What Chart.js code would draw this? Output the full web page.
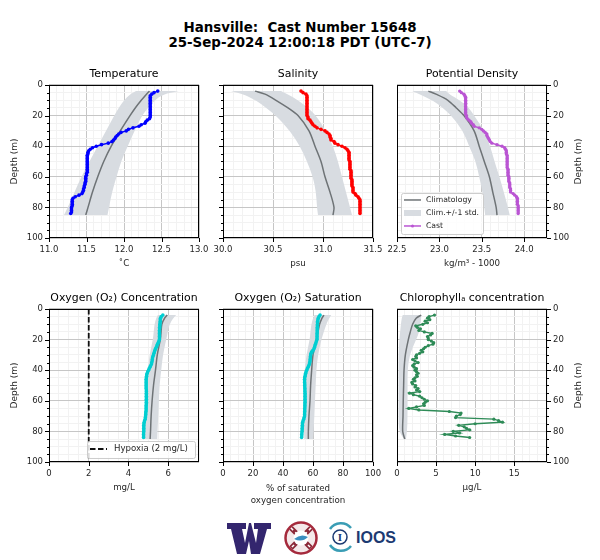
<!DOCTYPE html>
<html>
<head>
<meta charset="utf-8">
<script src="https://cdn.jsdelivr.net/npm/chart.js@4/dist/chart.umd.min.js"></script>
<style>
  html, body { margin: 0; background: #fff; }
  body { position: relative; width: 600px; height: 560px; overflow: hidden; font-family: "DejaVu Sans", sans-serif; }
  canvas { position: absolute; }
  #title { position: absolute; top: 20px; left: 0; width: 600px; text-align: center; font-size: 13.4px; font-weight: bold; line-height: 15px; color: #000; white-space: pre; }
  #logos { position: absolute; left: 0; top: 0; }
</style>
</head>
<body>
<div id="title">Hansville:  Cast Number 15648
25-Sep-2024 12:00:18 PDT (UTC-7)</div>

<svg id="logos" width="600" height="560">
  <path d="M227 523 H246 V529 H242 L245 543 L249 523 H251 L256 543 L258 529 H254 V523 H271 V529 H267 L260 554 H251 L249 541 L246 554 H237 L231 529 H227 Z" fill="#33266e"/>
  <circle cx="301" cy="538" r="15.5" fill="#f4e9ea" stroke="#a52a3c" stroke-width="2.5"/>
  <path d="M291 528 L311 548 M311 528 L291 548" stroke="#8c2a3a" stroke-width="5"/>
  <path d="M291 528 L311 548 M311 528 L291 548" stroke="#fff" stroke-width="1.5" stroke-dasharray="3 3"/>
  <circle cx="301" cy="538" r="7.5" fill="#fff"/>
  <path d="M294 539 q7 -6 14 -2 q-6 6 -14 2z" fill="#3a8fc0"/>
  <path d="M330 529 a13 13 0 0 1 21 -1 M330 545 a13 13 0 0 0 21 1" fill="none" stroke="#3a9db5" stroke-width="2.5"/>
  <circle cx="340" cy="537" r="7" fill="#fff" stroke="#1c3a72" stroke-width="1.5"/>
  <text x="340" y="541" text-anchor="middle" font-family="Liberation Serif" font-weight="bold" font-size="11" fill="#1c3a72">I</text>
  <text x="356" y="543" font-family="Liberation Sans" font-weight="bold" font-size="17" fill="#1c3a72" textLength="40" lengthAdjust="spacingAndGlyphs">IOOS</text>
</svg>

<script>
// Cast depths (m)
const castDepth = [4,5,6,7,8,9,10,11,12,13,14,15,16,17,18,19,20,21,22,23,24,25,26,27,28,29,30,31,32,33,34,35,36,37,38,39,40,41,42,43,44,45,46,47,48,49,50,51,52,53,54,55,56,57,58,59,60,61,62,63,64,65,66,67,68,69,70,71,72,73,74,75,76,77,78,79,80,81,82,83,84];

const tempCast = [12.45,12.40,12.37,12.35,12.35,12.35,12.35,12.35,12.35,12.35,12.35,12.35,12.35,12.35,12.35,12.35,12.35,12.35,12.34,12.31,12.29,12.28,12.23,12.20,12.12,12.06,12.03,11.96,11.93,11.91,11.89,11.88,11.86,11.84,11.79,11.70,11.63,11.58,11.55,11.53,11.52,11.52,11.51,11.51,11.51,11.51,11.51,11.51,11.51,11.51,11.51,11.51,11.51,11.51,11.50,11.50,11.49,11.49,11.49,11.49,11.48,11.48,11.47,11.47,11.46,11.46,11.45,11.44,11.40,11.35,11.32,11.31,11.31,11.31,11.31,11.31,11.30,11.30,11.30,11.30,11.29];
const salCast = [30.78,30.80,30.83,30.84,30.84,30.84,30.84,30.84,30.84,30.84,30.84,30.84,30.84,30.84,30.84,30.84,30.84,30.85,30.85,30.87,30.88,30.89,30.90,30.92,30.94,30.98,31.02,31.04,31.06,31.07,31.07,31.08,31.08,31.11,31.12,31.15,31.19,31.22,31.24,31.25,31.26,31.26,31.26,31.26,31.26,31.26,31.27,31.27,31.27,31.27,31.27,31.27,31.28,31.28,31.28,31.28,31.28,31.28,31.29,31.29,31.29,31.29,31.29,31.30,31.30,31.30,31.30,31.32,31.33,31.35,31.36,31.37,31.37,31.37,31.37,31.37,31.37,31.37,31.37,31.37,31.37];
const densCast = [23.24,23.26,23.29,23.30,23.31,23.31,23.31,23.31,23.31,23.31,23.31,23.31,23.31,23.31,23.31,23.31,23.32,23.32,23.33,23.35,23.37,23.38,23.40,23.41,23.47,23.50,23.52,23.54,23.56,23.56,23.57,23.58,23.59,23.60,23.62,23.68,23.74,23.77,23.78,23.79,23.79,23.79,23.80,23.80,23.80,23.80,23.80,23.80,23.80,23.80,23.80,23.81,23.81,23.81,23.81,23.81,23.82,23.82,23.82,23.82,23.83,23.83,23.83,23.83,23.84,23.84,23.84,23.87,23.89,23.91,23.92,23.92,23.92,23.92,23.92,23.93,23.93,23.93,23.93,23.93,23.93];
const oxyCast = [5.73,5.65,5.61,5.60,5.60,5.59,5.58,5.58,5.57,5.57,5.56,5.56,5.56,5.56,5.56,5.56,5.56,5.53,5.50,5.46,5.43,5.40,5.36,5.33,5.31,5.28,5.26,5.23,5.21,5.20,5.19,5.17,5.16,5.12,5.08,5.04,5.01,4.97,4.94,4.92,4.91,4.90,4.89,4.89,4.89,4.89,4.89,4.89,4.89,4.90,4.90,4.90,4.90,4.90,4.90,4.90,4.90,4.90,4.90,4.89,4.89,4.89,4.89,4.88,4.87,4.87,4.86,4.85,4.84,4.81,4.79,4.78,4.77,4.77,4.77,4.77,4.77,4.76,4.76,4.76,4.76];
const satCast = [64.7,64.0,63.5,63.3,63.1,63.0,63.0,62.9,62.9,62.8,62.8,62.8,62.7,62.7,62.7,62.7,62.7,62.3,62.0,61.6,61.3,61.0,60.7,59.9,59.1,58.7,58.4,58.3,58.2,58.1,58.0,57.8,57.6,57.2,56.7,56.2,55.8,55.4,55.1,54.9,54.7,54.5,54.4,54.4,54.4,54.5,54.5,54.5,54.6,54.6,54.6,54.7,54.7,54.7,54.7,54.7,54.7,54.7,54.6,54.6,54.6,54.5,54.5,54.5,54.4,54.4,54.4,54.1,53.8,53.4,53.1,53.0,52.9,52.9,52.8,52.8,52.7,52.6,52.5,52.5,52.4];
const chlCast = [4.8,4.1,3.9,4.2,3.6,3.9,3.3,2.4,2.6,3.0,2.8,3.5,4.5,4.3,3.9,4.0,4.0,4.4,4.7,4.6,4.0,3.6,3.4,3.1,3.3,2.9,2.5,2.4,2.5,2.0,2.3,2.7,2.2,2.0,2.2,2.5,2.3,2.5,2.7,2.5,2.6,2.3,2.1,2.3,1.9,2.0,2.4,2.3,2.7,2.5,2.9,1.6,2.1,2.9,3.2,3.5,3.9,3.6,3.4,3.5,2.5,1.5,2.8,6.7,8.2,8.1,7.6,7.5,12.4,13.0,13.5,10.0,7.9,8.6,8.9,9.3,7.2,8.0,6.1,7.5,9.3];

// Climatology depths (m), mean and +/-1 std. edges
const climDepth = [4,6,10,15,20,30,40,50,60,70,80,85];

const tempClim = [12.34,12.30,12.23,12.15,12.08,11.95,11.83,11.73,11.65,11.58,11.52,11.49];
const tempLow = [12.16,12.08,12.00,11.93,11.87,11.76,11.65,11.54,11.43,11.34,11.25,11.20];
const tempHigh = [12.73,12.52,12.41,12.32,12.24,12.14,12.05,11.96,11.90,11.84,11.80,11.78];

const salClim = [30.32,30.42,30.53,30.65,30.75,30.86,30.92,30.98,31.02,31.07,31.11,31.10];
const salLow = [30.08,30.20,30.33,30.43,30.53,30.67,30.77,30.84,30.90,30.93,30.94,30.95];
const salHigh = [30.58,30.65,30.75,30.85,30.93,31.03,31.10,31.15,31.19,31.23,31.27,31.29];

const densClim = [22.87,22.96,23.10,23.20,23.29,23.41,23.47,23.53,23.59,23.63,23.67,23.68];
const densLow = [22.68,22.76,22.92,23.04,23.14,23.28,23.35,23.43,23.47,23.51,23.53,23.54];
const densHigh = [23.08,23.12,23.24,23.35,23.41,23.53,23.60,23.65,23.71,23.76,23.81,23.83];

const oxyClim = [5.95,5.82,5.68,5.64,5.60,5.45,5.36,5.26,5.19,5.14,5.11,5.09];
const oxyLow = [5.48,5.39,5.31,5.27,5.23,5.06,4.97,4.89,4.86,4.81,4.81,4.81];
const oxyHigh = [6.40,6.24,6.07,5.98,5.90,5.73,5.65,5.56,5.53,5.50,5.46,5.45];

const satClim = [67.3,66.0,64.4,63.3,62.2,60.0,59.1,58.4,58.0,57.3,56.9,56.9];
const satLow = [61.0,60.0,58.9,58.3,57.8,55.6,54.4,54.0,53.8,53.8,54.0,54.2];
const satHigh = [72.2,70.7,68.9,67.2,65.6,63.3,62.2,61.8,61.3,60.9,60.4,60.0];

const chlClim = [3.1,2.45,2.0,1.7,1.45,1.07,0.9,0.85,0.8,0.77,0.73,1.0];
const chlLow = [0.73,0.6,0.5,0.4,0.3,0.2,0.2,0.2,0.2,0.2,0.25,0.9];
const chlHigh = [3.1,3.1,3.0,2.85,2.45,1.6,1.35,1.35,1.35,1.35,1.3,1.15];

const hypoxiaX = [2, 2];
const hypoxiaDepth = [0, 100];

const depthTicks = [0, 20, 40, 60, 80, 100];

const climColor = '#6e7376';
const bandColor = '#d8dce1';
const inkColor = '#262626';

const isMajor = (v, step) => Math.abs(v / step - Math.round(v / step)) < 1e-6;
const xy = (xs, ys) => xs.map((x, i) => ({ x: x, y: ys[i] }));

// Runs a smooth path through the points, using midpoints as curve ends
const smoothTo = (ctx, pts) => {
    ctx.lineTo(pts[0][0], pts[0][1]);
    for (let i = 1; i < pts.length - 1; i++) {
        ctx.quadraticCurveTo(pts[i][0], pts[i][1], (pts[i][0] + pts[i + 1][0]) / 2, (pts[i][1] + pts[i + 1][1]) / 2);
    }
    ctx.lineTo(pts[pts.length - 1][0], pts[pts.length - 1][1]);
};

// Shaded +/-1 std. band, drawn under the lines
const bandPlugin = (depths, low, high) => ({
    id: 'band',
    beforeDatasetsDraw(chart) {
        const { ctx, scales: { x, y } } = chart;
        const edge = (vals) => vals.map((v, i) => [x.getPixelForValue(v), y.getPixelForValue(depths[i])]);
        ctx.save();
        ctx.fillStyle = bandColor;
        ctx.beginPath();
        smoothTo(ctx, edge(low));
        smoothTo(ctx, edge(high).reverse());
        ctx.closePath();
        ctx.fill();
        ctx.restore();
    }
});

// Black frame and short outside tick marks, minor ones on the depth axis
const framePlugin = {
    id: 'frame',
    afterDraw(chart) {
        const { ctx, chartArea: a, scales: { x, y } } = chart;
        ctx.save();
        ctx.strokeStyle = '#000';
        ctx.lineWidth = 1;
        ctx.strokeRect(a.left + 0.5, a.top + 0.5, a.right - a.left - 1, a.bottom - a.top - 1);
        ctx.beginPath();
        y.ticks.forEach(t => {
            const py = Math.round(y.getPixelForValue(t.value)) + 0.5;
            const len = depthTicks.includes(t.value) ? 4 : 2;
            if (y.position === 'right') {
                ctx.moveTo(a.right, py); ctx.lineTo(a.right + len, py);
            } else {
                ctx.moveTo(a.left, py); ctx.lineTo(a.left - len, py);
            }
        });
        x.ticks.forEach(t => {
            if (!t.label) return;
            const px = Math.round(x.getPixelForValue(t.value)) + 0.5;
            ctx.moveTo(px, a.bottom); ctx.lineTo(px, a.bottom + 4);
        });
        ctx.stroke();
        ctx.restore();
    }
};

// Chart.js turns a right side axis title the other way, so it is drawn here
const rightTitlePlugin = (text) => ({
    id: 'rightTitle',
    afterDraw(chart) {
        const { ctx, chartArea: a } = chart;
        ctx.save();
        ctx.translate(a.right + 32, (a.top + a.bottom) / 2);
        ctx.rotate(-Math.PI / 2);
        ctx.font = '9px "DejaVu Sans"';
        ctx.fillStyle = inkColor;
        ctx.textAlign = 'center';
        ctx.textBaseline = 'middle';
        ctx.fillText(text, 0, 0);
        ctx.restore();
    }
});

// Inset legend box. Offsets are from the plot's top left corner
const legendPlugin = (box, rows) => ({
    id: 'insetLegend',
    afterDatasetsDraw(chart) {
        const { ctx, chartArea: a } = chart;
        ctx.save();
        ctx.translate(a.left, a.top);
        ctx.fillStyle = 'rgba(255,255,255,0.85)';
        ctx.strokeStyle = '#ccc';
        ctx.lineWidth = 1;
        ctx.beginPath();
        ctx.roundRect(box.x + 0.5, box.y + 0.5, box.w, box.h, 2);
        ctx.fill();
        ctx.stroke();
        ctx.font = `${box.font}px "DejaVu Sans"`;
        ctx.textBaseline = 'middle';
        rows.forEach(r => {
            const x0 = box.x + 3, x1 = box.x + 20;
            if (r.kind === 'band') {
                ctx.fillStyle = bandColor;
                ctx.fillRect(x0, r.y - 3, x1 - x0, 6);
            } else {
                ctx.strokeStyle = r.color;
                ctx.lineWidth = r.width;
                ctx.setLineDash(r.dash || []);
                ctx.beginPath();
                ctx.moveTo(x0, r.y);
                ctx.lineTo(x1, r.y);
                ctx.stroke();
                ctx.setLineDash([]);
                if (r.kind === 'marker') {
                    ctx.fillStyle = r.color;
                    ctx.beginPath();
                    ctx.arc((x0 + x1) / 2, r.y, 1.5, 0, Math.PI * 2);
                    ctx.fill();
                }
            }
            ctx.fillStyle = inkColor;
            ctx.fillText(r.text, box.x + box.textX, r.y);
        });
        ctx.restore();
    }
});

const makePanel = (cfg) => {
    const canvas = document.createElement('canvas');
    canvas.width = 240;
    canvas.height = 230;
    canvas.style.left = (cfg.left - 45) + 'px';
    canvas.style.top = (cfg.top - 32) + 'px';
    document.body.appendChild(canvas);

    const datasets = [
        { data: xy(cfg.clim, climDepth), borderColor: climColor, borderWidth: 1.5, pointRadius: 0, showLine: true, tension: 0.3, order: 3 },
        { data: xy(cfg.cast, castDepth), borderColor: cfg.color, backgroundColor: cfg.color, borderWidth: cfg.lineWidth, pointRadius: cfg.pointRadius, pointBorderWidth: 0, showLine: true, order: 2 }
    ];
    if (cfg.extra) datasets.push(cfg.extra);

    const plugins = [bandPlugin(climDepth, cfg.low, cfg.high), framePlugin];
    if (cfg.legend) plugins.push(legendPlugin(cfg.legend.box, cfg.legend.rows));
    if (cfg.side === 'right') plugins.push(rightTitlePlugin('Depth (m)'));

    new Chart(canvas, {
        type: 'scatter',
        data: { datasets: datasets },
        plugins: plugins,
        options: {
            responsive: false,
            animation: false,
            devicePixelRatio: 1,
            plugins: {
                legend: { display: false },
                tooltip: { enabled: false },
                title: {
                    display: true,
                    text: cfg.title,
                    color: '#000',
                    font: { family: 'DejaVu Sans', size: 10.9, weight: 'normal', lineHeight: 1.2 },
                    padding: { top: 14.9, bottom: 4 }
                }
            },
            scales: {
                x: {
                    type: 'linear',
                    min: cfg.xMin,
                    max: cfg.xMax,
                    afterFit: (s) => { s.height = 45; },
                    border: { display: false },
                    grid: {
                        drawTicks: false,
                        color: (c) => isMajor(c.tick.value, cfg.xMajor) ? '#c6c6c6' : '#f2f2f2',
                        lineWidth: 1
                    },
                    ticks: {
                        stepSize: cfg.xMinor,
                        autoSkip: false,
                        maxRotation: 0,
                        padding: 7,
                        color: inkColor,
                        font: { family: 'DejaVu Sans', size: 8.5 },
                        callback: (v) => isMajor(v, cfg.xMajor) ? v.toFixed(cfg.xDigits) : ''
                    },
                    title: {
                        display: true,
                        text: cfg.xTitle,
                        color: inkColor,
                        font: { family: 'DejaVu Sans', size: 8.7, lineHeight: 1.4 },
                        padding: { top: 0, bottom: cfg.xTitlePad === undefined ? 13 : cfg.xTitlePad }
                    }
                },
                y: {
                    type: 'linear',
                    position: cfg.side === 'right' ? 'right' : 'left',
                    reverse: true,
                    min: 0,
                    max: 100,
                    afterFit: (s) => { s.width = 45; },
                    border: { display: false },
                    grid: {
                        drawTicks: false,
                        color: (c) => depthTicks.includes(c.tick.value) ? '#c6c6c6' : '#f2f2f2',
                        lineWidth: 1
                    },
                    ticks: {
                        stepSize: 5,
                        autoSkip: false,
                        padding: 6,
                        color: inkColor,
                        font: { family: 'DejaVu Sans', size: 8.5 },
                        callback: (v) => (cfg.side !== 'none' && depthTicks.includes(v)) ? String(v) : ''
                    },
                    title: {
                        display: cfg.side === 'left',
                        text: 'Depth (m)',
                        color: inkColor,
                        font: { family: 'DejaVu Sans', size: 9 },
                        padding: { top: 5, bottom: 5 }
                    }
                },
                // Empty axis on the other side, keeps the title centred over the plot
                spacer: {
                    type: 'linear',
                    position: cfg.side === 'right' ? 'left' : 'right',
                    afterFit: (s) => { s.width = 45; },
                    border: { display: false },
                    grid: { display: false },
                    ticks: { display: false }
                }
            }
        }
    });
};

makePanel({ left: 49, top: 85, side: 'left', title: 'Temperature', xTitle: '˚C', xMin: 11, xMax: 13, xMajor: 0.5, xMinor: 0.1, xDigits: 1,
    cast: tempCast, clim: tempClim, low: tempLow, high: tempHigh, color: '#0000ff', lineWidth: 1.5, pointRadius: 1.8 });
makePanel({ left: 223, top: 85, side: 'none', title: 'Salinity', xTitle: 'psu', xMin: 30, xMax: 31.5, xMajor: 0.5, xMinor: 0.1, xDigits: 1,
    cast: salCast, clim: salClim, low: salLow, high: salHigh, color: '#ff0000', lineWidth: 1.5, pointRadius: 1.8 });
makePanel({ left: 397, top: 85, side: 'right', title: 'Potential Density', xTitle: 'kg/m³ - 1000', xMin: 22.5, xMax: 24.27, xMajor: 0.5, xMinor: 0.1, xDigits: 1,
    cast: densCast, clim: densClim, low: densLow, high: densHigh, color: '#ba55d3', lineWidth: 1.5, pointRadius: 1.7,
    legend: {
        box: { x: 4, y: 108, w: 82, h: 41, font: 7.7, textX: 25 },
        rows: [
            { text: 'Climatology', y: 115, color: climColor, width: 1.5 },
            { text: 'Clim.+/-1 std.', y: 128, kind: 'band' },
            { text: 'Cast', y: 141, color: '#ba55d3', width: 1.5, kind: 'marker' }
        ]
    } });

makePanel({ left: 49, top: 309, side: 'left', title: 'Oxygen (O₂) Concentration', xTitle: 'mg/L', xMin: 0, xMax: 7.55, xMajor: 2, xMinor: 0.5, xDigits: 0,
    cast: oxyCast, clim: oxyClim, low: oxyLow, high: oxyHigh, color: '#00ced1', lineWidth: 1.5, pointRadius: 1.8,
    extra: { data: xy(hypoxiaX, hypoxiaDepth), borderColor: '#111', borderWidth: 1.8, borderDash: [5.5, 2.5], pointRadius: 0, showLine: true, order: 1 },
    legend: {
        box: { x: 38, y: 132, w: 108, h: 17, font: 8.6, textX: 27 },
        rows: [{ text: 'Hypoxia (2 mg/L)', y: 140, color: '#111', width: 1.8, dash: [5.5, 2.5] }]
    } });
makePanel({ left: 223, top: 309, side: 'none', title: 'Oxygen (O₂) Saturation', xTitle: ['% of saturated', 'oxygen concentration'], xTitlePad: 0, xMin: 0, xMax: 100, xMajor: 20, xMinor: 5, xDigits: 0,
    cast: satCast, clim: satClim, low: satLow, high: satHigh, color: '#00ced1', lineWidth: 1.5, pointRadius: 1.8 });
makePanel({ left: 397, top: 309, side: 'right', title: 'Chlorophyllₐ concentration', xTitle: 'μg/L', xMin: 0, xMax: 19.2, xMajor: 5, xMinor: 1, xDigits: 0,
    cast: chlCast, clim: chlClim, low: chlLow, high: chlHigh, color: '#2e8b57', lineWidth: 1.4, pointRadius: 1.6 });
</script>
</body>
</html>
